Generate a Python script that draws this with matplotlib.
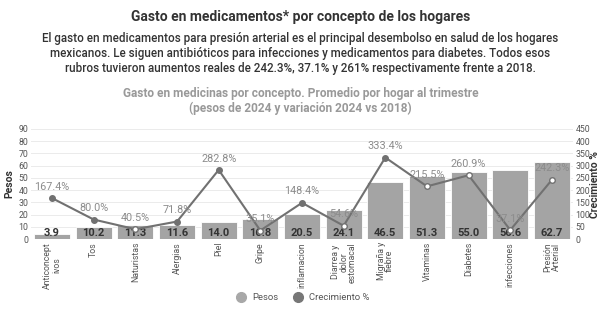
import matplotlib
matplotlib.use("Agg")
import matplotlib.pyplot as plt
import numpy as np
from matplotlib.lines import Line2D

plt.rcParams['font.family'] = ['Roboto', 'DejaVu Sans']

# datos
conceptos = ['Anticoncept\nivos', 'Tos', 'Naturistas', 'Alergias', 'Piel', 'Gripe',
             'inflamacion', 'Diarrea y\ndolor\nestomacal', 'Migraña y\nfiebre',
             'Vitaminas', 'Diabetes', 'infecciones', 'Presión\nArterial']
pesos = [3.9, 10.2, 11.3, 11.6, 14.0, 16.8, 20.5, 24.1, 46.5, 51.3, 55.0, 56.6, 62.7]
crecimiento = [167.4, 80.0, 40.5, 71.8, 282.8, 35.1, 148.4, 54.6, 333.4, 215.5, 260.9, 37.1, 242.3]

# colores
col_bar = '#a4a4a4'
col_line = '#717171'
col_txt = '#333333'
col_gray = '#999999'
col_grid = '#ebebeb'

fig = plt.figure(figsize=(6.01, 3.13), dpi=100)
ax = fig.add_axes([0.052, 0.236, 0.901, 0.352])
ax2 = ax.twinx()

x = np.arange(len(conceptos))

ax.bar(x, pesos, width=0.86, color=col_bar, edgecolor='white', linewidth=0.6, zorder=2)
ax.set_ylim(0, 90)
ax.set_yticks(range(0, 91, 10))
ax.set_xlim(-0.5, len(conceptos) - 0.5)
ax.yaxis.grid(color=col_grid, linewidth=0.7)
ax.set_axisbelow(True)

# valores de las barras
for i, v in enumerate(pesos):
    ax.text(i, 0.6, f'{v:.1f}', ha='center', va='bottom', fontsize=8,
            fontweight='bold', color=col_txt, zorder=5)

# linea de crecimiento
ax2.set_ylim(0, 450)
ax2.set_yticks(range(0, 451, 50))
ax2.plot(x, crecimiento, color=col_line, linewidth=1.5, zorder=3)
for i, c in enumerate(crecimiento):
    dentro = c / 450 < pesos[i] / 90
    ax2.plot(i, c, 'o', markersize=4, markeredgewidth=1,
             markeredgecolor=col_line, markerfacecolor='white' if dentro else col_line, zorder=4)
    ax2.text(i, c + 26, f'{c:.1f}%', ha='center', va='bottom', fontsize=7.8,
             color='#8c8c8c', zorder=4)

for a in (ax, ax2):
    for s in a.spines.values():
        s.set_visible(False)
    a.tick_params(length=0, labelsize=6.3, labelcolor='#555555', pad=2)

ax.set_xticks(x)
ax.set_xticklabels(conceptos, rotation=90, fontsize=6.3, color='#555555',
                   va='top', ha='center', linespacing=0.95)
ax.set_ylabel('Pesos', fontsize=7.5, fontweight='bold', color=col_txt, labelpad=3)
ax2.set_ylabel('Crecimiento %', fontsize=7.5, fontweight='bold', color=col_txt, labelpad=0)

# titulos
fig.text(0.5, 0.945, 'Gasto en medicamentos* por concepto de los hogares', ha='center',
         va='center', fontsize=10, fontweight='bold', color=col_txt)
sub = ('El gasto en medicamentos para presión arterial es el principal desembolso en salud de los hogares\n'
       'mexicanos. Le siguen antibióticos para infecciones y medicamentos para diabetes. Todos esos\n'
       'rubros tuvieron aumentos reales de 242.3%, 37.1% y 261% respectivamente frente a 2018.')
fig.text(0.5, 0.83, sub, ha='center', va='center', fontsize=8.4, fontweight='medium',
         color=col_txt, linespacing=1.22)
fig.text(0.5, 0.677, 'Gasto en medicinas por concepto. Promedio por hogar al trimestre\n'
         '(pesos de 2024 y variación 2024 vs 2018)', ha='center', va='center',
         fontsize=8.6, fontweight='bold', color=col_gray, linespacing=1.2)

# leyenda
handles = [Line2D([], [], marker='o', linestyle='none', markersize=7, color='#a8a8a8'),
           Line2D([], [], marker='o', linestyle='none', markersize=7, color='#777777')]
fig.legend(handles, ['Pesos', 'Crecimiento %'], loc='center', bbox_to_anchor=(0.5, 0.05),
           ncol=2, frameon=False, fontsize=6.8, handletextpad=0.2, columnspacing=1.0,
           labelcolor='#555555')

fig.savefig('out.png', dpi=100)
